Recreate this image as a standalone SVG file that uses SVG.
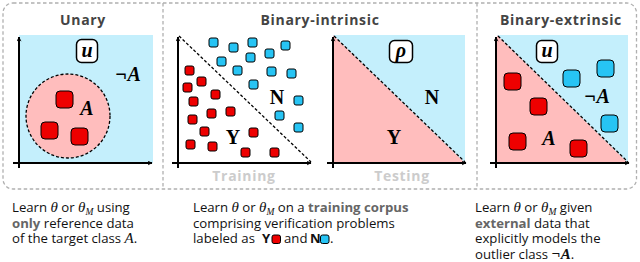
<svg xmlns="http://www.w3.org/2000/svg" width="640" height="262" viewBox="0 0 640 262">
<defs>
<style>
.frame{fill:none;stroke:#b0b0b0;stroke-width:1.3;stroke-dasharray:3.5 2.5}
.title{font-family:"Open Sans","Liberation Sans",sans-serif;font-weight:bold;font-size:14px;letter-spacing:0.7px;fill:#444;text-anchor:middle}
.sub{font-family:"Open Sans","Liberation Sans",sans-serif;font-weight:bold;font-size:14px;letter-spacing:0.7px;fill:#ccc;text-anchor:middle}
.axis{stroke:#000;stroke-width:2;fill:none}
.diag{stroke:#000;stroke-width:1.3;stroke-dasharray:3 2;fill:none}
.bg{fill:#c4effc}
.pink{fill:#ffbdbd}
.r{fill:#ee0000;stroke:#000;stroke-width:1}
.b{fill:#27c4f4;stroke:#000;stroke-width:1}
.lab{font-family:"Liberation Serif","DejaVu Serif",serif;font-weight:bold;font-size:20px;fill:#000;text-anchor:middle}
.lbi{font-family:"Liberation Serif","DejaVu Serif",serif;font-weight:bold;font-style:italic;font-size:20px;fill:#000;text-anchor:middle}
.box{fill:#fff;stroke:#000;stroke-width:1.5}
.desc{font-family:"Open Sans","Liberation Sans",sans-serif;font-size:13.2px;fill:#111}
.hl{font-weight:bold;fill:#666}
.m{font-family:"Liberation Serif","DejaVu Serif",serif;font-style:italic;font-size:15px}
.ms{font-family:"Liberation Serif","DejaVu Serif",serif;font-style:italic;font-size:9.5px;baseline-shift:-2.5px}
</style>
<marker id="ah" viewBox="0 0 10 10" refX="9" refY="5" markerWidth="5" markerHeight="5" orient="auto-start-reverse" markerUnits="userSpaceOnUse">
<path d="M0,0 L10,5 L0,10 L3,5 z" fill="#000"/>
</marker>
</defs>
<rect x="0" y="0" width="640" height="262" fill="#fff"/>
<g id="frame">
<rect class="frame" x="3" y="3" width="633.5" height="186" rx="10"/>
<line class="frame" x1="163" y1="3" x2="163" y2="189"/>
<line class="frame" x1="477" y1="3" x2="477" y2="189"/>
</g>

<g id="unary">
<text class="title" x="83" y="25">Unary</text>
<rect class="bg" x="19" y="35" width="134" height="128"/>
<circle cx="68" cy="116" r="42" fill="#ffbdbd" stroke="#000" stroke-width="1.3" stroke-dasharray="3 2"/>
<rect class="r" x="56" y="91" width="17" height="17" rx="4"/>
<rect class="r" x="41" y="122" width="17" height="17" rx="4"/>
<rect class="r" x="71" y="128" width="17" height="17" rx="4"/>
<text class="lbi" x="87" y="115">A</text>
<text class="lbi" x="128" y="81">¬A</text>
<rect class="box" x="76.5" y="39.5" width="21" height="23" rx="5"/>
<text class="lbi" x="87" y="57">u</text>
<line class="axis" x1="19" y1="168" x2="19" y2="37" marker-end="url(#ah)"/>
<line class="axis" x1="13" y1="163" x2="152" y2="163" marker-end="url(#ah)"/>
</g>

<g id="binary-intrinsic">
<text class="title" x="320" y="25">Binary-intrinsic</text>
<g id="training">
<line class="diag" x1="179" y1="36" x2="311" y2="162"/>
<g class="b">
<rect x="209" y="38" width="9" height="9" rx="2"/>
<rect x="229" y="43" width="9" height="9" rx="2"/>
<rect x="248" y="38" width="9" height="9" rx="2"/>
<rect x="281" y="41" width="9" height="9" rx="2"/>
<rect x="217" y="57" width="9" height="9" rx="2"/>
<rect x="246" y="53" width="9" height="9" rx="2"/>
<rect x="265" y="49" width="9" height="9" rx="2"/>
<rect x="233" y="66" width="9" height="9" rx="2"/>
<rect x="267" y="67" width="9" height="9" rx="2"/>
<rect x="287" y="69" width="9" height="9" rx="2"/>
<rect x="249" y="80" width="9" height="9" rx="2"/>
<rect x="294" y="96" width="9" height="9" rx="2"/>
<rect x="275" y="111" width="9" height="9" rx="2"/>
<rect x="294" y="123" width="9" height="9" rx="2"/>
</g>
<g class="r">
<rect x="185" y="66" width="9" height="9" rx="2"/>
<rect x="197" y="77" width="9" height="9" rx="2"/>
<rect x="183" y="83" width="9" height="9" rx="2"/>
<rect x="211" y="90" width="9" height="9" rx="2"/>
<rect x="189" y="97" width="9" height="9" rx="2"/>
<rect x="226" y="107" width="9" height="9" rx="2"/>
<rect x="207" y="109" width="9" height="9" rx="2"/>
<rect x="188" y="115" width="9" height="9" rx="2"/>
<rect x="200" y="127" width="9" height="9" rx="2"/>
<rect x="249" y="128" width="9" height="9" rx="2"/>
<rect x="186" y="140" width="9" height="9" rx="2"/>
<rect x="208" y="142" width="9" height="9" rx="2"/>
<rect x="241" y="148" width="9" height="9" rx="2"/>
<rect x="270" y="148" width="9" height="9" rx="2"/>
</g>
<text class="lab" x="233" y="144">Y</text>
<text class="lab" x="277" y="104">N</text>
<line class="axis" x1="178" y1="168" x2="178" y2="37" marker-end="url(#ah)"/>
<line class="axis" x1="172" y1="163" x2="311" y2="163" marker-end="url(#ah)"/>
<text class="sub" x="244" y="181">Training</text>
</g>
<g id="testing">
<rect class="bg" x="333" y="35" width="132" height="128"/>
<polygon class="pink" points="333,35 465,163 333,163"/>
<line class="diag" x1="334" y1="36" x2="465" y2="162"/>
<rect class="box" x="389.5" y="40.5" width="23" height="22" rx="5"/>
<text class="lbi" x="401" y="57">ρ</text>
<text class="lab" x="432" y="104">N</text>
<text class="lab" x="394" y="144">Y</text>
<line class="axis" x1="333" y1="168" x2="333" y2="37" marker-end="url(#ah)"/>
<line class="axis" x1="327" y1="163" x2="466" y2="163" marker-end="url(#ah)"/>
<text class="sub" x="402" y="181">Testing</text>
</g>
</g>

<g id="binary-extrinsic">
<text class="title" x="561" y="25">Binary-extrinsic</text>
<rect class="bg" x="497" y="35" width="131" height="128"/>
<polygon class="pink" points="497,35 628,163 497,163"/>
<line class="diag" x1="498" y1="36" x2="628" y2="162"/>
<rect class="box" x="536.5" y="40.5" width="21" height="22" rx="5"/>
<text class="lbi" x="547" y="57">u</text>
<rect class="b" x="563" y="70" width="17" height="17" rx="4"/>
<rect class="b" x="597" y="60" width="17" height="17" rx="4"/>
<rect class="b" x="601" y="115" width="17" height="17" rx="4"/>
<rect class="r" x="504" y="73" width="17" height="17" rx="4"/>
<rect class="r" x="530" y="98" width="17" height="17" rx="4"/>
<rect class="r" x="509" y="133" width="17" height="17" rx="4"/>
<rect class="r" x="570" y="140" width="17" height="17" rx="4"/>
<text class="lbi" x="597" y="103">¬A</text>
<text class="lbi" x="549" y="145">A</text>
<line class="axis" x1="496" y1="168" x2="496" y2="37" marker-end="url(#ah)"/>
<line class="axis" x1="490" y1="163" x2="629" y2="163" marker-end="url(#ah)"/>
</g>

<g id="desc-unary" class="desc">
<text x="12" y="212">Learn <tspan class="m">θ</tspan> or <tspan class="m">θ</tspan><tspan class="ms">M</tspan> using</text>
<text x="12" y="227.5"><tspan class="hl">only</tspan> reference data</text>
<text x="12" y="243">of the target class <tspan class="m">A</tspan>.</text>
</g>
<g id="desc-intrinsic" class="desc">
<text x="193" y="212">Learn <tspan class="m">θ</tspan> or <tspan class="m">θ</tspan><tspan class="ms">M</tspan> on a <tspan class="hl">training corpus</tspan></text>
<text x="193" y="227.5">comprising verification problems</text>
<text x="193" y="243">labeled as</text>
<text x="262" y="243" font-weight="bold">Y</text>
<rect class="r" x="272" y="235" width="8.5" height="8.5" rx="2"/>
<text x="284" y="243">and</text>
<text x="310" y="243" font-weight="bold">N</text>
<rect class="b" x="320.5" y="235" width="8.5" height="8.5" rx="2"/>
<text x="330" y="243">.</text>
</g>
<g id="desc-extrinsic" class="desc">
<text x="475" y="212">Learn <tspan class="m">θ</tspan> or <tspan class="m">θ</tspan><tspan class="ms">M</tspan> given</text>
<text x="475" y="227.5"><tspan class="hl">external</tspan> data that</text>
<text x="475" y="243">explicitly models the</text>
<text x="475" y="258.5">outlier class <tspan class="m" font-weight="bold">¬A</tspan>.</text>
</g>
</svg>
